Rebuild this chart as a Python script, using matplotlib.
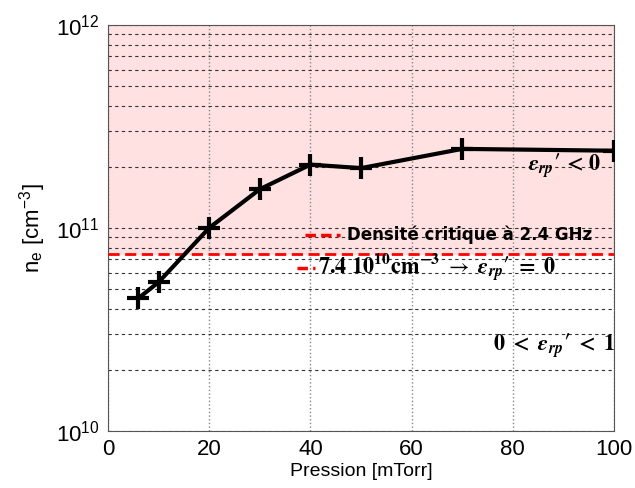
import numpy as np
import matplotlib
matplotlib.use('Agg')
from matplotlib import pyplot as plt

plt.rcParams['font.family'] = ['Liberation Sans', 'DejaVu Sans']
plt.rcParams['mathtext.fontset'] = 'stix'

pression = [6, 10, 20, 30, 40, 50, 70, 100]
ne = [4.5e10, 5.4e10, 1.0e11, 1.55e11, 2.05e11, 1.97e11, 2.45e11, 2.4e11]
n_crit = 7.4e10

fig = plt.figure(figsize=(6.35, 4.88), dpi=100)
ax = fig.add_axes([0.170, 0.117, 0.797, 0.832])

ax.set_yscale('log')
ax.set_xlim(0, 100)
ax.set_ylim(1e10, 1e12)

# zone epsilon < 0
ax.axhspan(n_crit, 1e12, color='#ffe1e1', zorder=0)

ax.grid(True, which='major', axis='x', color='#888888', linestyle=':', linewidth=1)
ax.grid(True, which='both', axis='y', color='#333333', linestyle=(0, (3, 3)), linewidth=0.8)

ax.axhline(n_crit, color='red', linestyle=(0, (4, 2)), linewidth=2, zorder=3)

ax.plot(pression, ne, color='black', linewidth=3, marker='+', markersize=16,
        markeredgewidth=3, zorder=4)

ax.set_xticks([0, 20, 40, 60, 80, 100])
ax.set_yticks([1e10, 1e11, 1e12])
ax.tick_params(axis='both', which='both', length=0, labelsize=16, pad=6)
ax.tick_params(axis='y', which='minor', left=False)
ax.set_xlabel('Pression [mTorr]', fontsize=14, labelpad=2)
ax.set_ylabel(r'n$_\mathregular{e}$ [cm$^\mathregular{-3}$]', fontsize=16, labelpad=6)

for s in ax.spines.values():
    s.set_color('#555555')

eps = r"\mathbfit{\varepsilon}_{\mathbfit{rp}}\mathbf{\prime}"

# legende manuelle
ax.plot([39, 45.8], [9.2e10, 9.2e10], color='red', linestyle=(0, (3, 1.5)),
        linewidth=2.5, zorder=5)
ax.text(47.3, 9.2e10, 'Densité critique à 2.4 GHz', fontsize=12, fontweight='bold',
        family=['DejaVu Sans'], va='center', ha='left', zorder=5)
ax.plot([37.4, 41], [6.35e10, 6.35e10], color='red', linestyle=(0, (3, 1.5)),
        linewidth=2.5, zorder=5)
ax.text(41.6, 6.35e10,
        r'$\mathbf{7.4\ 10^{10}cm^{-3}}\ \rightarrow\ ' + eps + r'\ \mathbf{=}\ \mathbf{0}$',
        fontsize=16, va='center', ha='left', zorder=5)

ax.text(83, 2.02e11, r'$' + eps + r'\,\mathbf{<}\,\mathbf{0}$', fontsize=16,
        va='center', ha='left', zorder=5)
ax.text(76, 2.62e10, r'$\mathbf{0}\ \mathbf{<}\ ' + eps + r'\ \mathbf{<}\ \mathbf{1}$',
        fontsize=16, va='center', ha='left', zorder=5)

fig.savefig('out.png', dpi=100)
